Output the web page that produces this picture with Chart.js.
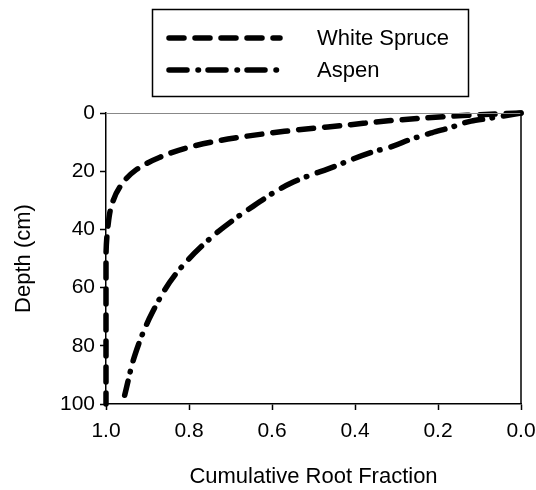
<!DOCTYPE html>
<html>
<head>
<meta charset="utf-8">
<title>Cumulative Root Fraction by Depth</title>
<script src="https://cdn.jsdelivr.net/npm/chart.js"></script>
<style>
  html, body { margin: 0; padding: 0; background: #fff; }
  #wrap { width: 536px; height: 490px; }
</style>
</head>
<body>
<div id="wrap"><canvas id="rootChart" width="536" height="490"></canvas></div>
<script>
// Cumulative root fraction (x) against soil depth in cm (y)
const spruceFraction = [0, 0.13, 0.25, 0.32, 0.41, 0.57, 0.69, 0.79, 0.87, 0.93, 0.966, 0.986, 0.995, 1.0, 1.0];
const spruceDepth    = [0, 0.8, 1.9, 2.7, 4.0, 6.3, 8.6, 11.4, 15.2, 19.8, 25.3, 31.5, 38.5, 50, 100];

const aspenFraction = [0, 0.075, 0.12, 0.17, 0.215, 0.265, 0.31, 0.36, 0.45, 0.55, 0.645, 0.74, 0.83, 0.89, 0.93, 0.955];
const aspenDepth    = [0, 1.8, 2.8, 5.0, 6.8, 9.0, 11.5, 13.5, 18.4, 23.8, 32, 42, 55, 69, 83, 97];

const fractionTicks = [1.0, 0.8, 0.6, 0.4, 0.2, 0.0];
const depthTicks = [0, 20, 40, 60, 80, 100];

const FONT = '"Liberation Sans", Arial, Helvetica, sans-serif';

function toPoints(xs, ys) {
    return xs.map((x, i) => ({ x: x, y: ys[i] }));
}

// Boxed legend above the plot, plus top/right frame lines of the plot
const frames = {
    id: 'frames',
    afterDraw(chart) {
        const ctx = chart.ctx;
        const area = chart.chartArea;
        ctx.save();

        ctx.strokeStyle = '#888';
        ctx.lineWidth = 1;
        ctx.beginPath();
        ctx.moveTo(area.left, area.top + 0.5);
        ctx.lineTo(area.right, area.top + 0.5);
        ctx.stroke();
        ctx.strokeStyle = '#000';
        ctx.lineWidth = 1.5;
        ctx.beginPath();
        ctx.moveTo(area.right, area.top);
        ctx.lineTo(area.right, area.bottom);
        ctx.stroke();

        ctx.strokeRect(152.5, 9.5, 316, 87);
        chart.data.datasets.forEach((ds, i) => {
            const y = 38 + i * 32;
            ctx.setLineDash(ds.borderDash);
            ctx.lineCap = 'round';
            ctx.lineWidth = ds.borderWidth;
            ctx.beginPath();
            ctx.moveTo(169, y);
            ctx.lineTo(280, y);
            ctx.stroke();
            ctx.setLineDash([]);
            ctx.fillStyle = '#000';
            ctx.font = '22px ' + FONT;
            ctx.textBaseline = 'middle';
            ctx.fillText(ds.label, 317, y + 1);
        });
        ctx.restore();
    }
};

const ctx = document.getElementById('rootChart').getContext('2d');
new Chart(ctx, {
    type: 'scatter',
    data: {
        datasets: [{
            label: 'White Spruce',
            data: toPoints(spruceFraction, spruceDepth),
            showLine: true,
            borderColor: '#000',
            borderWidth: 5.5,
            borderDash: [15, 11],
            borderCapStyle: 'round',
            cubicInterpolationMode: 'monotone',
            indexAxis: 'y',
            pointRadius: 0,
            clip: 4
        }, {
            label: 'Aspen',
            data: toPoints(aspenFraction, aspenDepth),
            showLine: true,
            borderColor: '#000',
            borderWidth: 5.5,
            borderDash: [18, 11, 0.5, 9.5],
            borderCapStyle: 'round',
            cubicInterpolationMode: 'monotone',
            indexAxis: 'y',
            pointRadius: 0,
            clip: 4
        }]
    },
    options: {
        responsive: false,
        animation: false,
        indexAxis: 'y',
        layout: { padding: { top: 113, right: 15, left: 0, bottom: 0 } },
        plugins: {
            legend: { display: false },
            tooltip: { enabled: false }
        },
        scales: {
            x: {
                type: 'linear',
                reverse: true,
                min: 0,
                max: 1,
                afterBuildTicks: (scale) => {
                    scale.ticks = fractionTicks.map(v => ({ value: v }));
                },
                afterFit: (scale) => {
                    scale.height = 86;
                    scale.paddingLeft = 0;
                    scale.paddingRight = 0;
                },
                ticks: {
                    callback: (v) => Number(v).toFixed(1),
                    color: '#000',
                    font: { family: FONT, size: 21 },
                    padding: 9,
                    maxRotation: 0
                },
                grid: {
                    drawOnChartArea: false,
                    tickLength: 6,
                    tickColor: '#000',
                    tickWidth: 1.5
                },
                border: { color: '#000', width: 1.5 },
                title: {
                    display: true,
                    text: 'Cumulative Root Fraction',
                    color: '#000',
                    font: { family: FONT, size: 22 },
                    padding: 0
                }
            },
            y: {
                type: 'linear',
                reverse: true,
                min: 0,
                max: 100,
                afterBuildTicks: (scale) => {
                    scale.ticks = depthTicks.map(v => ({ value: v }));
                },
                afterFit: (scale) => { scale.width = 106; },
                ticks: {
                    color: '#000',
                    font: { family: FONT, size: 21 },
                    padding: 5
                },
                grid: {
                    drawOnChartArea: false,
                    tickLength: 6,
                    tickColor: '#000',
                    tickWidth: 1.5
                },
                border: { color: '#000', width: 1.5 },
                title: {
                    display: true,
                    text: 'Depth (cm)',
                    color: '#000',
                    font: { family: FONT, size: 22 },
                    padding: { top: 11, bottom: 0 }
                }
            }
        }
    },
    plugins: [frames]
});
</script>
</body>
</html>
